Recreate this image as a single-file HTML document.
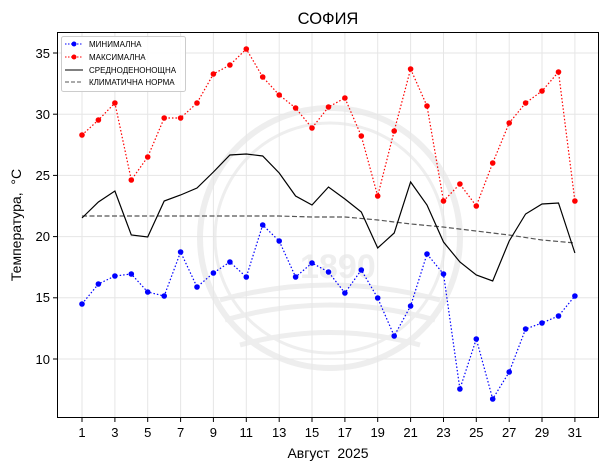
<!DOCTYPE html>
<html><head><meta charset="utf-8"><style>body{margin:0;background:#fff}svg{display:block}</style></head><body>
<svg width="609" height="470" xmlns="http://www.w3.org/2000/svg" font-family="Liberation Sans, DejaVu Sans, sans-serif">
<rect width="609" height="470" fill="#fff"/>
<g fill="none" stroke="#eeeeee" stroke-width="6">
<circle cx="330" cy="238" r="130"/><circle cx="330" cy="238" r="115" stroke-width="3"/>
<path d="M220 300 Q330 270 440 300 M225 320 Q330 290 435 320 M240 345 Q330 320 420 345" stroke-width="5"/>
</g>
<text x="300" y="278" font-size="34" font-weight="bold" fill="#eeeeee">1890</text>
<g stroke="#e6e6e6" stroke-width="1">
<line x1="57" x2="598" y1="53" y2="53"/><line x1="57" x2="598" y1="114.2" y2="114.2"/><line x1="57" x2="598" y1="175.4" y2="175.4"/><line x1="57" x2="598" y1="236.6" y2="236.6"/><line x1="57" x2="598" y1="297.8" y2="297.8"/><line x1="57" x2="598" y1="359" y2="359"/>
<line y1="32" y2="417" x1="82" x2="82"/><line y1="32" y2="417" x1="114.9" x2="114.9"/><line y1="32" y2="417" x1="147.7" x2="147.7"/><line y1="32" y2="417" x1="180.6" x2="180.6"/><line y1="32" y2="417" x1="213.4" x2="213.4"/><line y1="32" y2="417" x1="246.3" x2="246.3"/><line y1="32" y2="417" x1="279.2" x2="279.2"/><line y1="32" y2="417" x1="312" x2="312"/><line y1="32" y2="417" x1="344.9" x2="344.9"/><line y1="32" y2="417" x1="377.7" x2="377.7"/><line y1="32" y2="417" x1="410.6" x2="410.6"/><line y1="32" y2="417" x1="443.5" x2="443.5"/><line y1="32" y2="417" x1="476.3" x2="476.3"/><line y1="32" y2="417" x1="509.2" x2="509.2"/><line y1="32" y2="417" x1="542" x2="542"/><line y1="32" y2="417" x1="574.9" x2="574.9"/>
</g>
<polyline fill="none" stroke="#555" stroke-width="1.2" stroke-dasharray="5,2.5" points="82,216 279,216 312,217 345,217 378,220 411,224 443,227 476,231 509,235 542,240 575,243"/>
<polyline fill="none" stroke="#000" stroke-width="1.2" points="82,218 98.4,202 114.9,191 131.3,235 147.7,237 164.2,201 180.6,195 197,188 213.4,172 229.9,155 246.3,154 262.7,156 279.2,173 295.6,196 312,205 328.5,187 344.9,199 361.3,212 377.7,248 394.2,233 410.6,182 427,205 443.5,242 459.9,262 476.3,275 492.7,281 509.2,241 525.6,214 542,204 558.5,203 574.9,253"/>
<g fill="red">
<polyline fill="none" stroke="red" stroke-width="1.2" stroke-dasharray="1.5,2" points="82,135 98.4,120 114.9,103 131.3,180 147.7,157 164.2,118 180.6,118 197,103 213.4,74 229.9,65 246.3,49 262.7,77 279.2,95 295.6,108 312,128 328.5,107 344.9,98 361.3,136 377.7,196 394.2,131 410.6,69 427,106 443.5,201 459.9,184 476.3,206 492.7,163 509.2,123 525.6,103 542,91 558.5,72 574.9,201"/>
<circle cx="82" cy="135" r="2.8"/><circle cx="98.4" cy="120" r="2.8"/><circle cx="114.9" cy="103" r="2.8"/><circle cx="131.3" cy="180" r="2.8"/><circle cx="147.7" cy="157" r="2.8"/><circle cx="164.2" cy="118" r="2.8"/><circle cx="180.6" cy="118" r="2.8"/><circle cx="197" cy="103" r="2.8"/><circle cx="213.4" cy="74" r="2.8"/><circle cx="229.9" cy="65" r="2.8"/><circle cx="246.3" cy="49" r="2.8"/><circle cx="262.7" cy="77" r="2.8"/><circle cx="279.2" cy="95" r="2.8"/><circle cx="295.6" cy="108" r="2.8"/><circle cx="312" cy="128" r="2.8"/><circle cx="328.5" cy="107" r="2.8"/><circle cx="344.9" cy="98" r="2.8"/><circle cx="361.3" cy="136" r="2.8"/><circle cx="377.7" cy="196" r="2.8"/><circle cx="394.2" cy="131" r="2.8"/><circle cx="410.6" cy="69" r="2.8"/><circle cx="427" cy="106" r="2.8"/><circle cx="443.5" cy="201" r="2.8"/><circle cx="459.9" cy="184" r="2.8"/><circle cx="476.3" cy="206" r="2.8"/><circle cx="492.7" cy="163" r="2.8"/><circle cx="509.2" cy="123" r="2.8"/><circle cx="525.6" cy="103" r="2.8"/><circle cx="542" cy="91" r="2.8"/><circle cx="558.5" cy="72" r="2.8"/><circle cx="574.9" cy="201" r="2.8"/>
</g>
<g fill="blue">
<polyline fill="none" stroke="blue" stroke-width="1.2" stroke-dasharray="1.5,2" points="82,304 98.4,284 114.9,276 131.3,274 147.7,292 164.2,296 180.6,252 197,287 213.4,273 229.9,262 246.3,277 262.7,225 279.2,241 295.6,277 312,263 328.5,272 344.9,293 361.3,270 377.7,298 394.2,336 410.6,306 427,254 443.5,274 459.9,389 476.3,339 492.7,399 509.2,372 525.6,329 542,323 558.5,316 574.9,296"/>
<circle cx="82" cy="304" r="2.8"/><circle cx="98.4" cy="284" r="2.8"/><circle cx="114.9" cy="276" r="2.8"/><circle cx="131.3" cy="274" r="2.8"/><circle cx="147.7" cy="292" r="2.8"/><circle cx="164.2" cy="296" r="2.8"/><circle cx="180.6" cy="252" r="2.8"/><circle cx="197" cy="287" r="2.8"/><circle cx="213.4" cy="273" r="2.8"/><circle cx="229.9" cy="262" r="2.8"/><circle cx="246.3" cy="277" r="2.8"/><circle cx="262.7" cy="225" r="2.8"/><circle cx="279.2" cy="241" r="2.8"/><circle cx="295.6" cy="277" r="2.8"/><circle cx="312" cy="263" r="2.8"/><circle cx="328.5" cy="272" r="2.8"/><circle cx="344.9" cy="293" r="2.8"/><circle cx="361.3" cy="270" r="2.8"/><circle cx="377.7" cy="298" r="2.8"/><circle cx="394.2" cy="336" r="2.8"/><circle cx="410.6" cy="306" r="2.8"/><circle cx="427" cy="254" r="2.8"/><circle cx="443.5" cy="274" r="2.8"/><circle cx="459.9" cy="389" r="2.8"/><circle cx="476.3" cy="339" r="2.8"/><circle cx="492.7" cy="399" r="2.8"/><circle cx="509.2" cy="372" r="2.8"/><circle cx="525.6" cy="329" r="2.8"/><circle cx="542" cy="323" r="2.8"/><circle cx="558.5" cy="316" r="2.8"/><circle cx="574.9" cy="296" r="2.8"/>
</g>
<rect x="57.5" y="32.5" width="541" height="385" fill="none" stroke="#000" stroke-width="1"/>
<g stroke="#000">
<line x1="53" x2="57" y1="53" y2="53"/><line x1="53" x2="57" y1="114.2" y2="114.2"/><line x1="53" x2="57" y1="175.4" y2="175.4"/><line x1="53" x2="57" y1="236.6" y2="236.6"/><line x1="53" x2="57" y1="297.8" y2="297.8"/><line x1="53" x2="57" y1="359" y2="359"/>
</g>
<g font-size="13" text-anchor="end" fill="#000">
<text x="50" y="58">35</text><text x="50" y="119">30</text><text x="50" y="180">25</text><text x="50" y="241">20</text><text x="50" y="302">15</text><text x="50" y="364">10</text>
</g>
<g stroke="#000">
<line y1="418" y2="422" x1="82" x2="82"/><line y1="418" y2="422" x1="114.9" x2="114.9"/><line y1="418" y2="422" x1="147.7" x2="147.7"/><line y1="418" y2="422" x1="180.6" x2="180.6"/><line y1="418" y2="422" x1="213.4" x2="213.4"/><line y1="418" y2="422" x1="246.3" x2="246.3"/><line y1="418" y2="422" x1="279.2" x2="279.2"/><line y1="418" y2="422" x1="312" x2="312"/><line y1="418" y2="422" x1="344.9" x2="344.9"/><line y1="418" y2="422" x1="377.7" x2="377.7"/><line y1="418" y2="422" x1="410.6" x2="410.6"/><line y1="418" y2="422" x1="443.5" x2="443.5"/><line y1="418" y2="422" x1="476.3" x2="476.3"/><line y1="418" y2="422" x1="509.2" x2="509.2"/><line y1="418" y2="422" x1="542" x2="542"/><line y1="418" y2="422" x1="574.9" x2="574.9"/>
</g>
<g font-size="13" text-anchor="middle" fill="#000">
<text x="82" y="437">1</text><text x="114.9" y="437">3</text><text x="147.7" y="437">5</text><text x="180.6" y="437">7</text><text x="213.4" y="437">9</text><text x="246.3" y="437">11</text><text x="279.2" y="437">13</text><text x="312" y="437">15</text><text x="344.9" y="437">17</text><text x="377.7" y="437">19</text><text x="410.6" y="437">21</text><text x="443.5" y="437">23</text><text x="476.3" y="437">25</text><text x="509.2" y="437">27</text><text x="542" y="437">29</text><text x="574.9" y="437">31</text>
<text x="328" y="458" font-size="14" xml:space="preserve">Август  2025</text>
<text x="328" y="24" font-size="16.5">СОФИЯ</text>
</g>
<text transform="translate(21,225) rotate(-90)" font-size="14" text-anchor="middle" xml:space="preserve">Температура,  °C</text>
<rect x="61.5" y="36.5" width="124" height="55" rx="2" fill="#fff" fill-opacity="0.85" stroke="#ccc"/>
<g font-size="8" fill="#000">
<line x1="65" x2="83" y1="44" y2="44" stroke="blue" stroke-dasharray="1.5,1.5"/><circle cx="74" cy="44" r="2.5" fill="blue"/><text x="89" y="47">МИНИМАЛНА</text>
<line x1="65" x2="83" y1="57" y2="57" stroke="red" stroke-dasharray="1.5,1.5"/><circle cx="74" cy="57" r="2.5" fill="red"/><text x="89" y="60">МАКСИМАЛНА</text>
<line x1="65" x2="83" y1="70" y2="70" stroke="#000"/><text x="89" y="73">СРЕДНОДЕНОНОЩНА</text>
<line x1="65" x2="83" y1="82" y2="82" stroke="#555" stroke-dasharray="4,2"/><text x="89" y="85">КЛИМАТИЧНА НОРМА</text>
</g>
</svg>
</body></html>
